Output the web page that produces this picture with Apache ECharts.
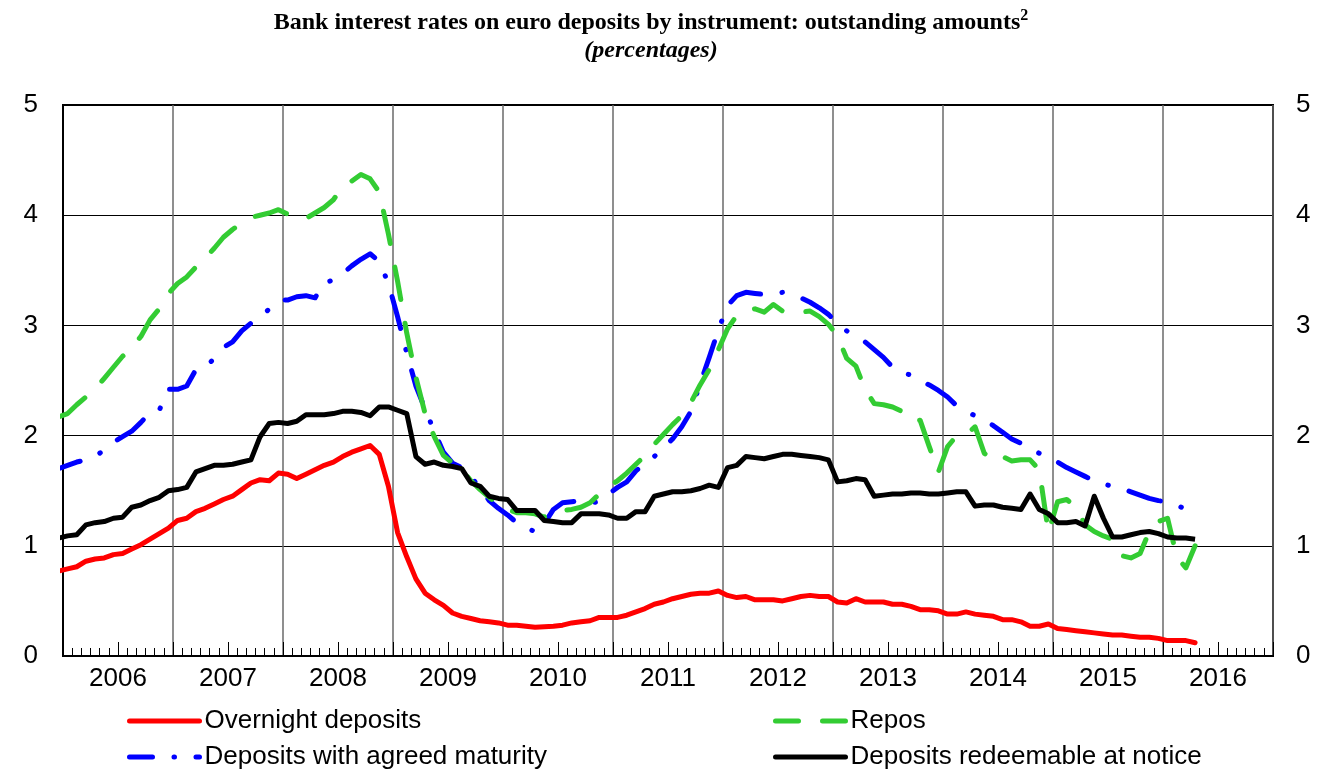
<!DOCTYPE html>
<html>
<head>
<meta charset="utf-8">
<script src="https://cdn.jsdelivr.net/npm/echarts@6/dist/echarts.min.js"></script>
<style>
html,body{margin:0;padding:0;background:#fff;}
#c{width:1324px;height:771px;}
</style>
</head>
<body>
<div id="c"></div>
<script>
// Monthly data, Dec 2005 .. Apr 2016 (first value = Dec 2005)
const years = ['2006','2007','2008','2009','2010','2011','2012','2013','2014','2015','2016'];

const overnight = [0.77,
  0.79,0.81,0.86,0.88,0.89,0.92,0.93,0.97,1.01,1.06,1.11,1.16,
  1.23,1.25,1.31,1.34,1.38,1.42,1.45,1.51,1.57,1.60,1.59,1.66,
  1.65,1.61,1.65,1.69,1.73,1.76,1.81,1.85,1.88,1.91,1.83,1.54,
  1.12,0.90,0.70,0.57,0.51,0.46,0.39,0.36,0.34,0.32,0.31,0.30,
  0.28,0.28,0.27,0.26,0.265,0.27,0.28,0.30,0.31,0.32,0.35,0.35,
  0.35,0.37,0.40,0.43,0.47,0.49,0.52,0.54,0.56,0.57,0.57,0.59,
  0.55,0.53,0.54,0.51,0.51,0.51,0.50,0.52,0.54,0.55,0.54,0.54,
  0.49,0.48,0.52,0.49,0.49,0.49,0.47,0.47,0.45,0.42,0.42,0.41,
  0.38,0.38,0.40,0.38,0.37,0.36,0.33,0.33,0.31,0.27,0.27,0.29,
  0.25,0.24,0.23,0.22,0.21,0.20,0.19,0.19,0.18,0.17,0.17,0.16,
  0.14,0.14,0.14,0.12];

const agreedMaturity = [1.70,
  1.73,1.76,1.78,1.81,1.87,1.94,1.99,2.04,2.12,2.21,2.23,2.42,
  2.42,2.45,2.60,2.62,2.70,2.80,2.85,2.95,3.02,3.07,3.15,3.23,
  3.23,3.26,3.27,3.25,3.39,3.41,3.47,3.54,3.60,3.65,3.58,3.38,
  3.08,2.75,2.45,2.24,2.04,1.85,1.75,1.71,1.63,1.52,1.41,1.34,
  1.28,1.21,1.16,1.13,1.20,1.33,1.39,1.40,1.41,1.39,1.40,1.47,
  1.53,1.58,1.68,1.75,1.81,1.89,1.97,2.08,2.22,2.47,2.71,2.96,
  3.18,3.27,3.30,3.29,3.28,3.29,3.30,3.28,3.25,3.21,3.16,3.10,
  3.02,2.95,2.90,2.85,2.78,2.71,2.62,2.57,2.55,2.50,2.46,2.41,
  2.35,2.27,2.22,2.18,2.14,2.09,2.03,1.97,1.93,1.88,1.84,1.80,
  1.76,1.71,1.67,1.63,1.59,1.56,1.54,1.52,1.49,1.46,1.43,1.41,
  1.40,1.37,1.33,1.30];

const repos = [2.17,
  2.20,2.28,2.35,2.42,2.52,2.62,2.72,2.80,2.90,3.05,3.15,3.29,
  3.38,3.44,3.53,3.61,3.70,3.80,3.87,3.93,3.98,4.00,4.02,4.05,
  4.01,3.97,3.97,4.02,4.07,4.14,4.26,4.31,4.37,4.33,4.21,3.83,
  3.40,2.93,2.53,2.20,1.99,1.82,1.75,1.69,1.59,1.51,1.44,1.37,
  1.33,1.30,1.30,1.29,1.26,1.31,1.32,1.33,1.35,1.39,1.47,1.54,
  1.59,1.66,1.74,1.82,1.92,2.01,2.10,2.18,2.30,2.46,2.60,2.78,
  2.97,3.09,3.13,3.15,3.12,3.19,3.13,3.12,3.12,3.13,3.08,3.01,
  2.90,2.70,2.63,2.42,2.29,2.28,2.26,2.22,2.13,2.14,1.90,1.67,
  1.90,2.00,2.01,2.08,1.84,1.77,1.81,1.77,1.78,1.78,1.69,1.12,
  1.40,1.42,1.35,1.19,1.13,1.09,1.06,0.91,0.89,0.93,1.13,1.22,
  1.25,0.90,0.80,1.00];

const redeemable = [1.07,
  1.09,1.10,1.19,1.21,1.22,1.25,1.26,1.35,1.37,1.41,1.44,1.50,
  1.51,1.53,1.67,1.70,1.73,1.73,1.74,1.76,1.78,1.99,2.11,2.12,
  2.11,2.13,2.19,2.19,2.19,2.20,2.22,2.22,2.21,2.18,2.26,2.26,
  2.23,2.20,1.81,1.74,1.76,1.73,1.72,1.70,1.57,1.54,1.45,1.43,
  1.42,1.32,1.32,1.32,1.23,1.22,1.21,1.21,1.29,1.29,1.29,1.28,
  1.25,1.25,1.31,1.31,1.45,1.47,1.49,1.49,1.50,1.52,1.55,1.53,
  1.71,1.73,1.81,1.80,1.79,1.81,1.83,1.83,1.82,1.81,1.80,1.78,
  1.58,1.59,1.61,1.60,1.45,1.46,1.47,1.47,1.48,1.48,1.47,1.47,
  1.48,1.49,1.49,1.36,1.37,1.37,1.35,1.34,1.33,1.47,1.33,1.29,
  1.21,1.21,1.22,1.18,1.45,1.25,1.08,1.08,1.10,1.12,1.13,1.11,
  1.08,1.07,1.07,1.06];

const names = ['Overnight deposits','Deposits with agreed maturity','Repos','Deposits redeemable at notice'];

// x position: months since Jan 2006, plotted mid-month (index 0 = Dec 2005)
function toPoints(arr){ return arr.map((v,i)=>[i - 0.5, v]); }

const sans = 'Liberation Sans, Arial, sans-serif';
const serif = 'Liberation Serif, Times New Roman, serif';

function legendAt(name, left, top){
  return {
    left:left, top:top, padding:0, orient:'horizontal', itemWidth:70, itemHeight:14,
    textStyle:{fontFamily:sans,fontSize:26,color:'#000',lineHeight:26},
    itemStyle:{opacity:0},
    lineStyle:{width:5,cap:'round'},
    data:[name]
  };
}

const chart = echarts.init(document.getElementById('c'), null, {renderer:'canvas'});
chart.setOption({
  animation:false,
  backgroundColor:'#fff',
  title:{
    left:646, textAlign:'center', top:3, itemGap:1,
    text:'{t|Bank interest rates on euro deposits by instrument: outstanding amounts}{s|2}',
    subtext:'(percentages)',
    textStyle:{rich:{
      t:{fontFamily:serif,fontWeight:'bold',fontSize:24,color:'#000',lineHeight:29},
      s:{fontFamily:serif,fontWeight:'bold',fontSize:16,color:'#000',lineHeight:29,verticalAlign:'top',padding:[0,0,12,0]}
    }},
    subtextStyle:{fontFamily:serif,fontWeight:'bold',fontStyle:'italic',fontSize:24,color:'#000',lineHeight:27}
  },
  grid:{left:63,right:51,top:105,bottom:115,show:true,borderColor:'#000',borderWidth:2,backgroundColor:'transparent'},
  legend:[
    legendAt(names[0],127,708),
    legendAt(names[1],127,744),
    legendAt(names[2],773,708),
    legendAt(names[3],773,744)
  ],
  xAxis:[
    {type:'value',min:0,max:132,interval:12,position:'bottom',
     axisLine:{show:true,lineStyle:{color:'#000',width:2}},
     axisTick:{show:true,inside:true,length:8,lineStyle:{color:'#000',width:1}},
     minorTick:{show:true,splitNumber:12,length:8,lineStyle:{color:'#000',width:1}},
     axisLabel:{show:false},
     splitLine:{show:true,lineStyle:{color:'#6a6a6a',width:1.5}}},
    {type:'value',min:0,max:132,interval:6,position:'bottom',
     axisLine:{show:false},
     axisTick:{show:true,inside:true,length:14,lineStyle:{color:'#000',width:1}},
     axisLabel:{show:true,margin:10,fontFamily:sans,fontSize:26,color:'#000',
       formatter:function(v){ return (v % 12 === 6) ? years[(v-6)/12] : ''; }},
     splitLine:{show:false}}
  ],
  yAxis:[
    {type:'value',min:0,max:5,interval:1,position:'left',
     axisLine:{show:true,lineStyle:{color:'#000',width:2}},
     axisTick:{show:false},
     axisLabel:{margin:25,fontFamily:sans,fontSize:26,color:'#000'},
     splitLine:{show:true,lineStyle:{color:'#000',width:1.2}}},
    {type:'value',min:0,max:5,interval:1,position:'right',
     axisLine:{show:true,lineStyle:{color:'#000',width:2}},
     axisTick:{show:false},
     axisLabel:{margin:23,fontFamily:sans,fontSize:26,color:'#000'},
     splitLine:{show:false}}
  ],
  series:[
    {name:names[0],type:'line',data:toPoints(overnight),symbol:'none',clip:true,
     lineStyle:{color:'#ff0000',width:5,cap:'round',join:'round'},itemStyle:{color:'#ff0000'},z:2},
    {name:names[1],type:'line',data:toPoints(agreedMaturity),symbol:'none',clip:true,
     lineStyle:{color:'#0000ff',width:5,cap:'round',join:'round',type:[33,21.5,0.5,21.5],dashOffset:10},itemStyle:{color:'#0000ff'},z:3},
    {name:names[2],type:'line',data:toPoints(repos),symbol:'none',clip:true,
     lineStyle:{color:'#33cc33',width:5,cap:'round',join:'round',type:[33,24]},itemStyle:{color:'#33cc33'},z:4},
    {name:names[3],type:'line',data:toPoints(redeemable),symbol:'none',clip:true,
     lineStyle:{color:'#000000',width:5,cap:'butt',join:'round'},itemStyle:{color:'#000000'},z:5}
  ]
});
</script>
</body>
</html>
